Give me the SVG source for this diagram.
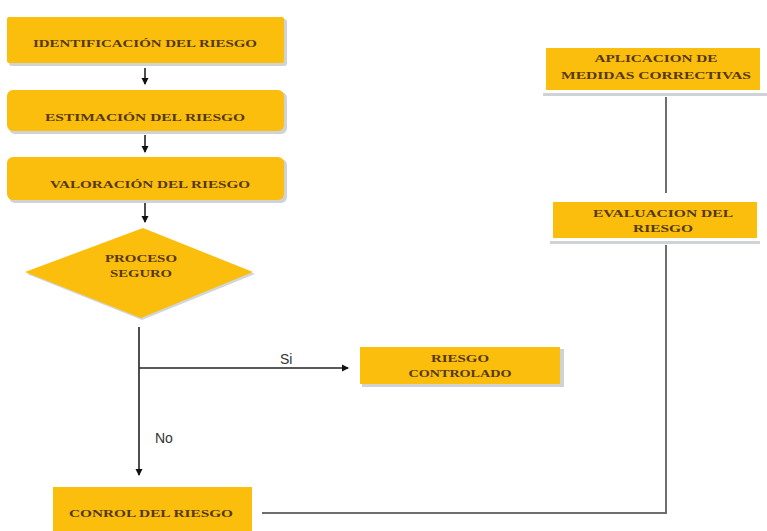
<svg xmlns="http://www.w3.org/2000/svg" width="767" height="531" viewBox="0 0 767 531">
<style>
.box{fill:#FBBE0C;}
.sh{fill:#cfd3d6;}
.t{font-family:"Liberation Serif","DejaVu Serif",serif;font-weight:bold;font-size:10.5px;fill:#553812;text-anchor:middle;}
.ln{stroke:#6e6e6e;stroke-width:2;fill:none;}
.ar{stroke:#222;stroke-width:1.6;fill:none;}
.lb{font-family:"Liberation Sans",Arial,sans-serif;font-size:14px;fill:#333;}
</style>
<defs>
<marker id="ah" markerWidth="8" markerHeight="8" refX="6" refY="4" orient="auto" markerUnits="userSpaceOnUse">
<path d="M0,0.5 L7,4 L0,7.5 Z" fill="#111"/>
</marker>
</defs>
<rect width="767" height="531" fill="#ffffff"/>
<g id="n1">
<rect class="sh" x="9" y="19" width="278" height="47" rx="3"/>
<rect class="box" x="7" y="17" width="277" height="46" rx="2"/>
<text class="t" x="145" y="47" textLength="224" lengthAdjust="spacingAndGlyphs">IDENTIFICACIÓN DEL RIESGO</text>
</g>
<g id="n2">
<rect class="sh" x="9" y="92" width="278" height="42" rx="6"/>
<rect class="box" x="7" y="90" width="277" height="41" rx="6"/>
<text class="t" x="145" y="121" textLength="200" lengthAdjust="spacingAndGlyphs">ESTIMACIÓN DEL RIESGO</text>
</g>
<g id="n3">
<rect class="sh" x="9" y="159" width="278" height="44" rx="6"/>
<rect class="box" x="7" y="157" width="277" height="43" rx="6"/>
<text class="t" x="150" y="188" textLength="200" lengthAdjust="spacingAndGlyphs">VALORACIÓN DEL RIESGO</text>
</g>
<g id="n4">
<polygon points="144,230 255,274 142,320 27,274" fill="#d3d6d8"/>
<polygon points="143,228 253,272 141,318 25,272" class="box"/>
<text class="t" x="141" y="262" textLength="72" lengthAdjust="spacingAndGlyphs">PROCESO</text>
<text class="t" x="141" y="277" textLength="62" lengthAdjust="spacingAndGlyphs">SEGURO</text>
</g>
<g id="n5">
<rect class="sh" x="362" y="349" width="202" height="38"/>
<rect class="box" x="360" y="347" width="200" height="37"/>
<text class="t" x="460" y="362" textLength="58" lengthAdjust="spacingAndGlyphs">RIESGO</text>
<text class="t" x="460" y="377" textLength="103" lengthAdjust="spacingAndGlyphs">CONTROLADO</text>
</g>
<g id="n6">
<rect class="box" x="53" y="487" width="199" height="50"/>
<text class="t" x="151" y="517" textLength="164" lengthAdjust="spacingAndGlyphs">CONROL DEL RIESGO</text>
</g>
<g id="n7">
<rect class="sh" x="543" y="93" width="224" height="3"/>
<rect class="box" x="546" y="48" width="214" height="42"/>
<text class="t" x="656" y="62" textLength="123" lengthAdjust="spacingAndGlyphs">APLICACION DE</text>
<text class="t" x="656" y="79" textLength="190" lengthAdjust="spacingAndGlyphs">MEDIDAS CORRECTIVAS</text>
</g>
<g id="n8">
<rect class="sh" x="550" y="241" width="210" height="3"/>
<rect class="box" x="553" y="202" width="204" height="36"/>
<text class="t" x="663" y="217" textLength="140" lengthAdjust="spacingAndGlyphs">EVALUACION DEL</text>
<text class="t" x="663" y="232" textLength="60" lengthAdjust="spacingAndGlyphs">RIESGO</text>
</g>
<g id="connectors">
<line class="ar" x1="145" y1="68" x2="145" y2="84" marker-end="url(#ah)"/>
<line class="ar" x1="145" y1="135" x2="145" y2="152" marker-end="url(#ah)"/>
<line class="ar" x1="145" y1="203" x2="145" y2="222" marker-end="url(#ah)"/>
<line class="ar" x1="139" y1="327" x2="139" y2="475" marker-end="url(#ah)"/>
<line class="ar" x1="139" y1="368" x2="348" y2="368" marker-end="url(#ah)"/>
<text class="lb" x="280" y="364">Si</text>
<text class="lb" x="155" y="443">No</text>
<polyline class="ln" points="262,513 666,513 666,245"/>
<line class="ln" x1="666" y1="97" x2="666" y2="193"/>
</g>
</svg>
